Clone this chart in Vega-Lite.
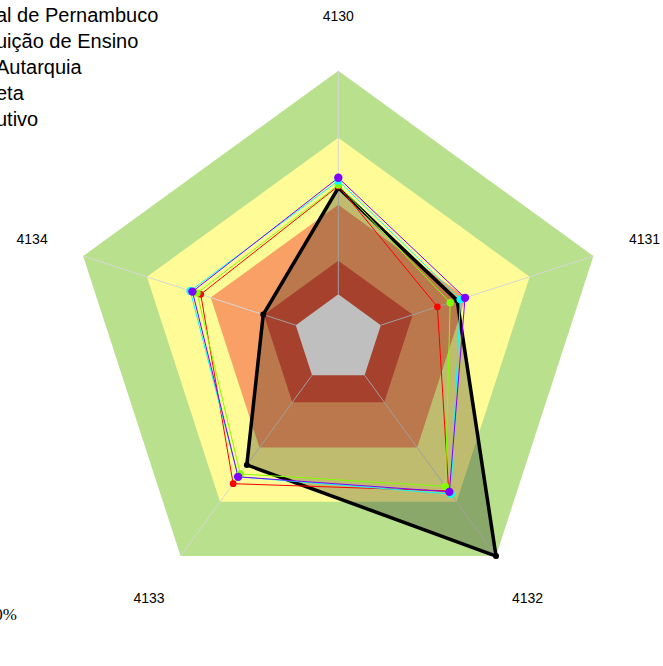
{
  "$schema": "https://vega.github.io/schema/vega-lite/v6.json",
  "width": 663,
  "height": 666,
  "autosize": {"type": "none"},
  "padding": 0,
  "background": "white",
  "config": {"view": {"stroke": null}, "font": "Liberation Sans"},
  "title": {
    "text": "100%",
    "orient": "bottom",
    "anchor": "start",
    "frame": "group",
    "align": "right",
    "baseline": "middle",
    "dx": 17,
    "offset": -51,
    "font": "Liberation Serif",
    "fontSize": 17,
    "fontWeight": "normal",
    "color": "#000000"
  },
  "datasets": {
    "axes": [
      {"axis": "4130"}, {"axis": "4131"}, {"axis": "4132"}, {"axis": "4133"}, {"axis": "4134"}
    ],
    "bands": [
      {"level": "100", "axis": "4130", "value": 100}, {"level": "100", "axis": "4131", "value": 100}, {"level": "100", "axis": "4132", "value": 100}, {"level": "100", "axis": "4133", "value": 100}, {"level": "100", "axis": "4134", "value": 100},
      {"level": "70", "axis": "4130", "value": 70}, {"level": "70", "axis": "4131", "value": 70}, {"level": "70", "axis": "4132", "value": 70}, {"level": "70", "axis": "4133", "value": 70}, {"level": "70", "axis": "4134", "value": 70},
      {"level": "40", "axis": "4130", "value": 40}, {"level": "40", "axis": "4131", "value": 40}, {"level": "40", "axis": "4132", "value": 40}, {"level": "40", "axis": "4133", "value": 40}, {"level": "40", "axis": "4134", "value": 40},
      {"level": "15", "axis": "4130", "value": 15}, {"level": "15", "axis": "4131", "value": 15}, {"level": "15", "axis": "4132", "value": 15}, {"level": "15", "axis": "4133", "value": 15}, {"level": "15", "axis": "4134", "value": 15},
      {"level": "0", "axis": "4130", "value": 0}, {"level": "0", "axis": "4131", "value": 0}, {"level": "0", "axis": "4132", "value": 0}, {"level": "0", "axis": "4133", "value": 0}, {"level": "0", "axis": "4134", "value": 0}
    ],
    "series": [
      {"series": "Universidade Federal de Pernambuco", "axis": "4130", "value": 47.6},
      {"series": "Universidade Federal de Pernambuco", "axis": "4131", "value": 35.9},
      {"series": "Universidade Federal de Pernambuco", "axis": "4132", "value": 100},
      {"series": "Universidade Federal de Pernambuco", "axis": "4133", "value": 49.6},
      {"series": "Universidade Federal de Pernambuco", "axis": "4134", "value": 15.3},
      {"series": "Instituição de Ensino", "axis": "4130", "value": 48.4},
      {"series": "Instituição de Ensino", "axis": "4131", "value": 26.6},
      {"series": "Instituição de Ensino", "axis": "4132", "value": 64},
      {"series": "Instituição de Ensino", "axis": "4133", "value": 60},
      {"series": "Instituição de Ensino", "axis": "4134", "value": 44.7},
      {"series": "Autarquia", "axis": "4130", "value": 48.9},
      {"series": "Autarquia", "axis": "4131", "value": 32.6},
      {"series": "Autarquia", "axis": "4132", "value": 61.5},
      {"series": "Autarquia", "axis": "4133", "value": 54.6},
      {"series": "Autarquia", "axis": "4134", "value": 46.4},
      {"series": "Administração Indireta", "axis": "4130", "value": 50.8},
      {"series": "Administração Indireta", "axis": "4131", "value": 37.4},
      {"series": "Administração Indireta", "axis": "4132", "value": 65.7},
      {"series": "Administração Indireta", "axis": "4133", "value": 56.2},
      {"series": "Administração Indireta", "axis": "4134", "value": 49.6},
      {"series": "Poder Executivo", "axis": "4130", "value": 52.1},
      {"series": "Poder Executivo", "axis": "4131", "value": 39.6},
      {"series": "Poder Executivo", "axis": "4132", "value": 64.5},
      {"series": "Poder Executivo", "axis": "4133", "value": 56.2},
      {"series": "Poder Executivo", "axis": "4134", "value": 48.6}
    ]
  },
  "layer": [
    {
      "data": {"name": "bands"},
      "transform": [
        {"calculate": "toNumber(datum.axis) - 4130", "as": "idx"},
        {"calculate": "1/6 + 5/6 * datum.value / 100", "as": "r"},
        {"calculate": "datum.r * sin(datum.idx * 2 * PI / 5)", "as": "px"},
        {"calculate": "datum.r * cos(datum.idx * 2 * PI / 5)", "as": "py"}
      ],
      "mark": {"type": "line", "interpolate": "linear-closed", "strokeWidth": 0, "strokeOpacity": 0},
      "encoding": {
        "x": {"field": "px", "type": "quantitative", "scale": {"domain": [-1.2609, 1.2102], "nice": false, "zero": false}, "axis": null},
        "y": {"field": "py", "type": "quantitative", "scale": {"domain": [-1.2188, 1.2635], "nice": false, "zero": false}, "axis": null},
        "fill": {"field": "level", "type": "nominal", "scale": {"domain": ["100", "70", "40", "15", "0"], "range": ["#B9E08C", "#FFFB96", "#F9A066", "#DC573C", "#FFFFFF"]}, "legend": null},
        "order": {"field": "idx", "type": "quantitative"}
      }
    },
    {
      "data": {"name": "axes"},
      "transform": [
        {"calculate": "toNumber(datum.axis) - 4130", "as": "idx"},
        {"calculate": "(1/6) * sin(datum.idx * 2 * PI / 5)", "as": "px"},
        {"calculate": "(1/6) * cos(datum.idx * 2 * PI / 5)", "as": "py"},
        {"calculate": "sin(datum.idx * 2 * PI / 5)", "as": "px2"},
        {"calculate": "cos(datum.idx * 2 * PI / 5)", "as": "py2"}
      ],
      "mark": {"type": "rule", "color": "#D6D6D6", "strokeWidth": 1},
      "encoding": {
        "x": {"field": "px", "type": "quantitative"},
        "y": {"field": "py", "type": "quantitative"},
        "x2": {"field": "px2"},
        "y2": {"field": "py2"}
      }
    },
    {
      "data": {"name": "axes"},
      "transform": [
        {"calculate": "toNumber(datum.axis) - 4130", "as": "idx"},
        {"calculate": "1.2 * sin(datum.idx * 2 * PI / 5)", "as": "px"},
        {"calculate": "1.2 * cos(datum.idx * 2 * PI / 5)", "as": "py"}
      ],
      "mark": {"type": "text", "font": "Liberation Sans", "fontSize": 14, "color": "#000000", "align": "center", "baseline": "middle"},
      "encoding": {
        "x": {"field": "px", "type": "quantitative"},
        "y": {"field": "py", "type": "quantitative"},
        "text": {"field": "axis"}
      }
    },
    {
      "data": {"name": "series"},
      "transform": [
        {"filter": "datum.series == 'Universidade Federal de Pernambuco'"},
        {"calculate": "toNumber(datum.axis) - 4130", "as": "idx"},
        {"calculate": "1/6 + 5/6 * datum.value / 100", "as": "r"},
        {"calculate": "datum.r * sin(datum.idx * 2 * PI / 5)", "as": "px"},
        {"calculate": "datum.r * cos(datum.idx * 2 * PI / 5)", "as": "py"}
      ],
      "mark": {"type": "line", "interpolate": "linear-closed", "fill": "#000000", "fillOpacity": 0.25, "stroke": "#000000", "strokeWidth": 3.5},
      "encoding": {
        "x": {"field": "px", "type": "quantitative"},
        "y": {"field": "py", "type": "quantitative"},
        "order": {"field": "idx", "type": "quantitative"}
      }
    },
    {
      "data": {"name": "series"},
      "transform": [
        {"filter": "datum.series != 'Universidade Federal de Pernambuco'"},
        {"calculate": "toNumber(datum.axis) - 4130", "as": "idx"},
        {"calculate": "1/6 + 5/6 * datum.value / 100", "as": "r"},
        {"calculate": "datum.r * sin(datum.idx * 2 * PI / 5)", "as": "px"},
        {"calculate": "datum.r * cos(datum.idx * 2 * PI / 5)", "as": "py"}
      ],
      "mark": {"type": "line", "interpolate": "linear-closed", "strokeWidth": 1},
      "encoding": {
        "x": {"field": "px", "type": "quantitative"},
        "y": {"field": "py", "type": "quantitative"},
        "color": {
          "field": "series",
          "type": "nominal",
          "scale": {
            "domain": ["Universidade Federal de Pernambuco", "Instituição de Ensino", "Autarquia", "Administração Indireta", "Poder Executivo"],
            "range": ["#000000", "#FF0000", "#80FF00", "#00FFFF", "#8000FF"]
          },
          "legend": {
            "orient": "none",
            "legendX": -38,
            "legendY": 6,
            "direction": "vertical",
            "title": null,
            "padding": 0,
            "labelFont": "Liberation Sans",
            "labelFontSize": 20,
            "labelColor": "#000000",
            "labelLimit": 0,
            "labelOffset": 14,
            "rowPadding": 6,
            "symbolType": "stroke",
            "symbolSize": 100,
            "symbolStrokeWidth": 2,
            "labelExpr": "{'Universidade Federal de Pernambuco': 'al de Pernambuco', 'Instituição de Ensino': 'uição de Ensino', 'Autarquia': 'Autarquia', 'Administração Indireta': 'eta', 'Poder Executivo': 'utivo'}[datum.label]"
          }
        },
        "order": {"field": "idx", "type": "quantitative"}
      }
    },
    {
      "data": {"name": "series"},
      "transform": [
        {"calculate": "toNumber(datum.axis) - 4130", "as": "idx"},
        {"calculate": "1/6 + 5/6 * datum.value / 100", "as": "r"},
        {"calculate": "datum.r * sin(datum.idx * 2 * PI / 5)", "as": "px"},
        {"calculate": "datum.r * cos(datum.idx * 2 * PI / 5)", "as": "py"}
      ],
      "mark": {"type": "point", "filled": true, "opacity": 1, "shape": "circle"},
      "encoding": {
        "x": {"field": "px", "type": "quantitative"},
        "y": {"field": "py", "type": "quantitative"},
        "color": {"field": "series", "type": "nominal"},
        "size": {
          "field": "series",
          "type": "nominal",
          "scale": {
            "domain": ["Universidade Federal de Pernambuco", "Instituição de Ensino", "Autarquia", "Administração Indireta", "Poder Executivo"],
            "range": [36, 70, 70, 70, 70]
          },
          "legend": null
        }
      }
    }
  ]
}
